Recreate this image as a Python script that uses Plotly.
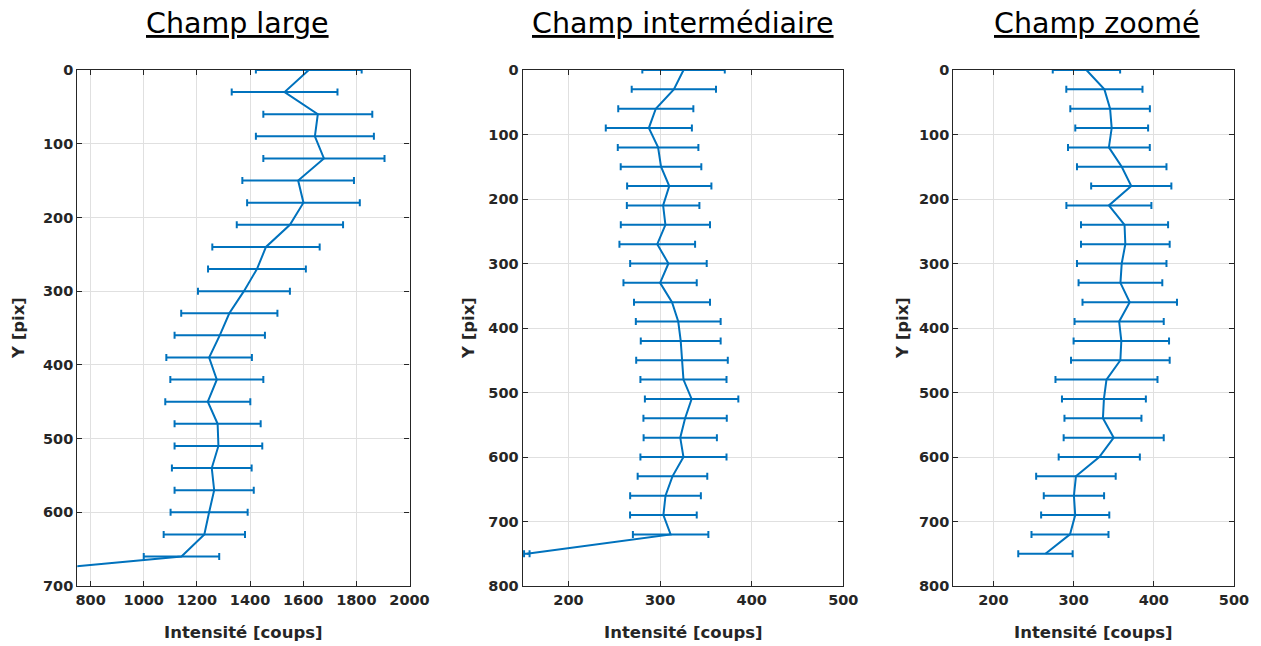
import plotly.graph_objects as go

# ---------- data ----------
y_large = [0, 30, 60, 90, 120, 150, 180, 210, 240, 270, 300, 330, 360, 390, 420,
           450, 480, 510, 540, 570, 600, 630, 660, 690]
i_large = [1621, 1530, 1655, 1644, 1678, 1581, 1601, 1550, 1460, 1426, 1377, 1322,
           1286, 1246, 1275, 1241, 1278, 1281, 1256, 1265, 1246, 1228, 1142, 260]
e_large = [199, 199, 205, 222, 228, 210, 212, 200, 202, 184, 173, 181,
           170, 161, 175, 160, 162, 165, 150, 149, 145, 153, 142, 5]

y_inter = [0, 30, 60, 90, 120, 150, 180, 210, 240, 270, 300, 330, 360, 390, 420,
           450, 480, 510, 540, 570, 600, 630, 660, 690, 720, 750]
i_inter = [325.6, 315, 295.3, 287.7, 297.8, 301, 310, 303.3, 305.8, 296.9, 309.1, 300,
           313, 319.8, 322.5, 323.9, 325.5, 334.4, 327.3, 322, 325.5, 313.5, 305.9,
           303.6, 311.5, 154.5]
e_inter = [45, 46, 41, 47, 44, 44, 46, 39.6, 48.7, 41.3, 41.8, 40,
           41.5, 46.3, 43.6, 50, 47, 51, 45.5, 40, 47, 38, 38.6, 36.4, 41.2, 3]

y_zoom = [0, 30, 60, 90, 120, 150, 180, 210, 240, 270, 300, 330, 360, 390, 420,
          450, 480, 510, 540, 570, 600, 630, 660, 690, 720, 750]
i_zoom = [316, 338.4, 345.5, 347.5, 344, 360, 371.9, 344, 363.5, 364.5, 360, 358.4,
          370, 356.8, 359.5, 358.3, 341, 337.8, 336.6, 350, 332, 302.9, 300.4, 302,
          295.5, 264.9]
e_zoom = [42, 47.5, 49.6, 45.4, 51, 55.8, 50, 53, 54.3, 55.3, 55.8, 52.2,
          58.9, 55.6, 59.5, 61.5, 63.6, 52.3, 48, 62.4, 50.6, 49.6, 37.6, 42.5, 48, 33.9]

titles = ["Champ large", "Champ intermédiaire", "Champ zoomé"]
x_label = "Intensité [coups]"
y_label = "Y [pix]"

x_ranges = [[750, 2000], [150, 500], [150, 500]]
x_ticks = [[800, 1000, 1200, 1400, 1600, 1800, 2000], [200, 300, 400, 500], [200, 300, 400, 500]]
y_ranges = [[700, 0], [800, 0], [800, 0]]
y_ticks = [[0, 100, 200, 300, 400, 500, 600, 700],
           [0, 100, 200, 300, 400, 500, 600, 700, 800],
           [0, 100, 200, 300, 400, 500, 600, 700, 800]]

# ---------- figure ----------
W, H = 1261, 646
OFF = 8  # page body margin
BLUE = "#0072BD"
DARK = "#262626"
GRID = "#e0e0e0"


def fx(px):
    return (px - OFF) / W


def fy(py):
    return 1 - (py - OFF) / H


x_dom = [[fx(77.3), fx(409.5)], [fx(522.7), fx(843.3)], [fx(953.3), fx(1234)]]
y_dom = [fy(586), fy(70)]

fig = go.Figure()
series = [(i_large, y_large, e_large), (i_inter, y_inter, e_inter), (i_zoom, y_zoom, e_zoom)]
for k, (xv, yv, ev) in enumerate(series):
    sfx = "" if k == 0 else str(k + 1)
    fig.add_trace(go.Scatter(
        x=xv, y=yv, mode="lines",
        line=dict(color=BLUE, width=2),
        error_x=dict(type="data", array=ev, visible=True, color=BLUE, thickness=2, width=3.5),
        xaxis="x" + sfx, yaxis="y" + sfx, showlegend=False, hoverinfo="x+y",
    ))

tickfont = dict(family="DejaVu Sans", size=14.5, color=DARK, weight="bold")
axis_common = dict(
    showline=True, linecolor=DARK, linewidth=1.3, mirror="ticks",
    ticks="inside", ticklen=5, tickwidth=1, tickcolor=DARK,
    showgrid=True, gridcolor=GRID, gridwidth=1, zeroline=False,
    tickfont=tickfont, automargin=False,
)

layout = dict(
    width=W, height=H, margin=dict(l=0, r=0, t=0, b=0, pad=0, autoexpand=False),
    paper_bgcolor="white", plot_bgcolor="white", template="none",
)
for k in range(3):
    sfx = "" if k == 0 else str(k + 1)
    layout["xaxis" + sfx] = dict(
        domain=x_dom[k], range=x_ranges[k], tickmode="array", tickvals=x_ticks[k],
        anchor="y" + sfx, **axis_common)
    layout["yaxis" + sfx] = dict(
        domain=y_dom, range=y_ranges[k], tickmode="array", tickvals=y_ticks[k],
        anchor="x" + sfx, **axis_common)
fig.update_layout(**layout)

title_x = [237.5, 683, 1096.7]
ylab_x = [19, 469, 903]
for k in range(3):
    cx = (x_dom[k][0] + x_dom[k][1]) / 2
    fig.add_annotation(
        text="<u>" + titles[k] + "</u>", xref="paper", yref="paper",
        x=fx(title_x[k]), y=fy(23), xanchor="center", yanchor="middle",
        showarrow=False, font=dict(family="DejaVu Sans", size=28.5, color="black"))
    fig.add_annotation(
        text="<b>" + x_label + "</b>", xref="paper", yref="paper",
        x=cx, y=fy(632), xanchor="center", yanchor="middle",
        showarrow=False, font=dict(family="DejaVu Sans", size=16.5, color=DARK))
    fig.add_annotation(
        text="<b>" + y_label + "</b>", xref="paper", yref="paper",
        x=fx(ylab_x[k]), y=fy(328), xanchor="center", yanchor="middle",
        textangle=-90, showarrow=False,
        font=dict(family="DejaVu Sans", size=16.5, color=DARK))

fig.write_html("out.html")
